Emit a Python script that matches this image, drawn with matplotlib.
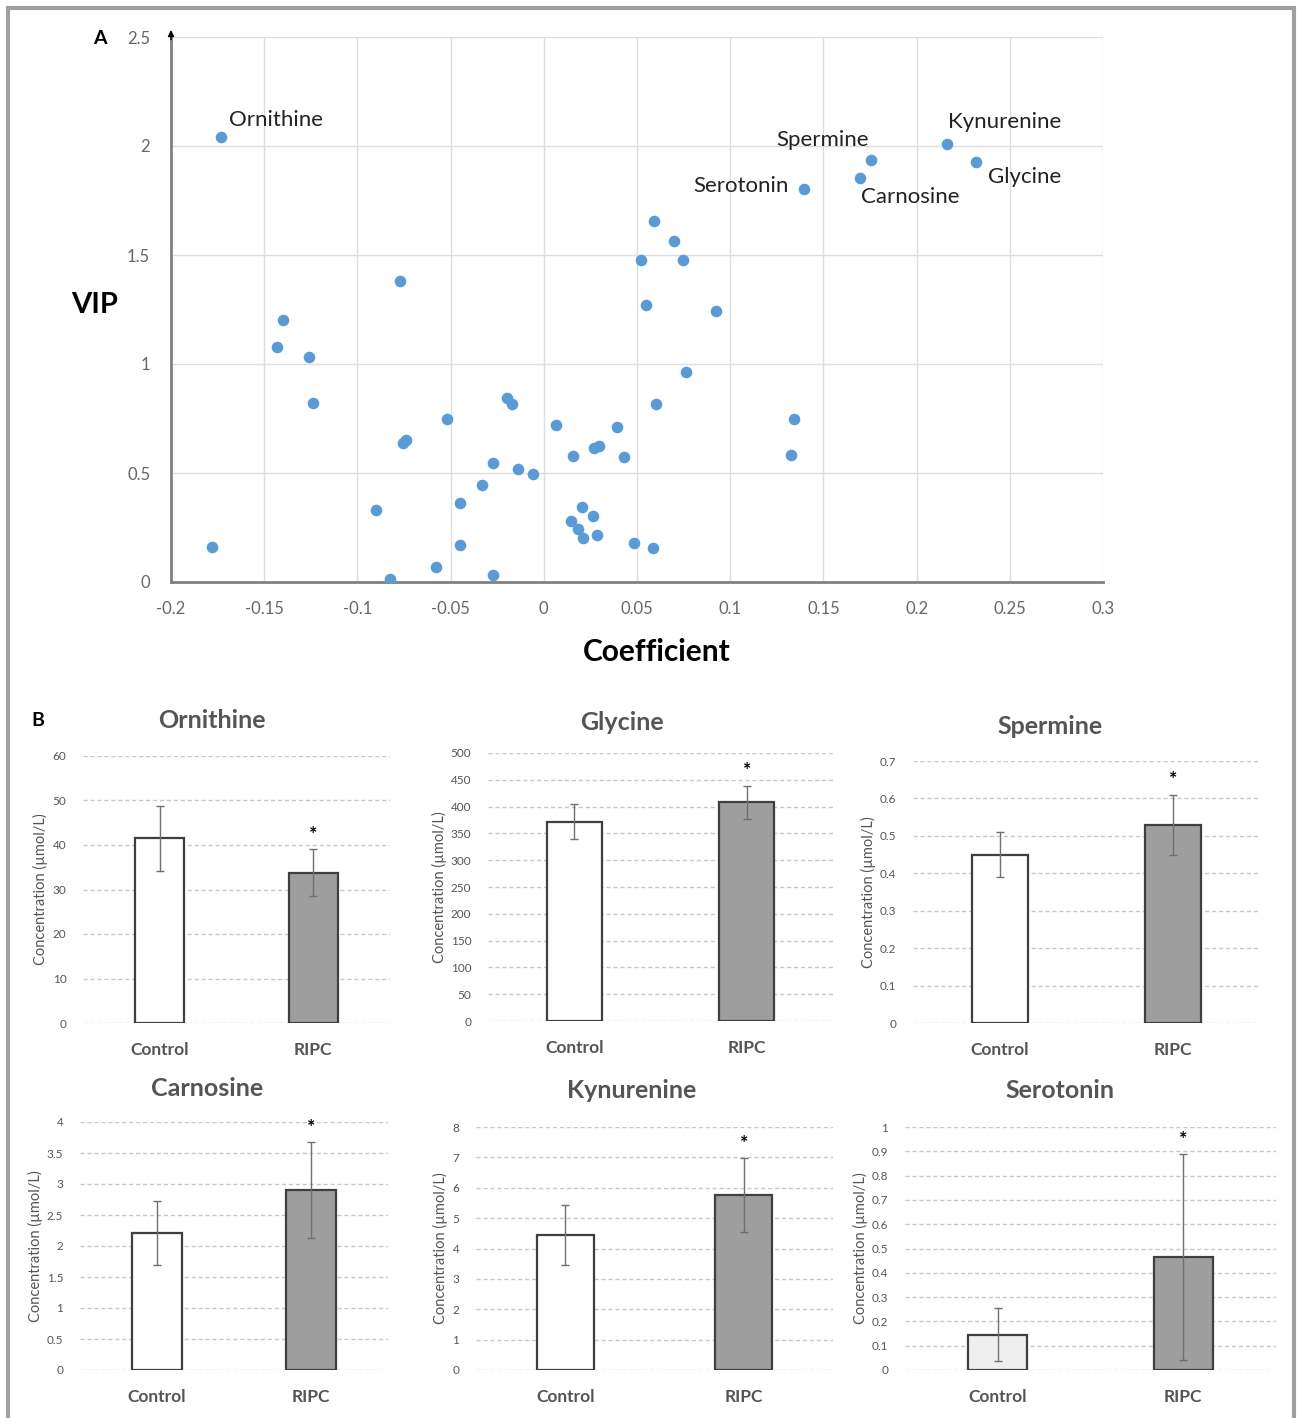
import matplotlib
matplotlib.use("Agg")
import matplotlib.pyplot as plt
from matplotlib.patches import Rectangle

plt.rcParams["font.family"] = ["Lato", "DejaVu Sans"]

W, H = 1297, 1418

# ---- panel A: VIP vs coefficient ----
coef = [-0.173, -0.178, -0.077, -0.140, -0.143, -0.126, -0.124, -0.0755, -0.0737,
        -0.052, -0.090, -0.0825, -0.058, -0.045, -0.045, -0.033, -0.027, -0.027,
        -0.020, -0.017, -0.014, -0.006, 0.0066, 0.0156, 0.0268, 0.0297, 0.0393,
        0.0428, 0.0205, 0.0266, 0.0145, 0.0186, 0.0211, 0.0287, 0.0484, 0.0588,
        0.0592, 0.0701, 0.0523, 0.0746, 0.0549, 0.0926, 0.0762, 0.0602, 0.1342,
        0.1326, 0.1395, 0.1697, 0.1754, 0.2164, 0.2316]
vip = [2.04, 0.16, 1.38, 1.20, 1.08, 1.03, 0.82, 0.636, 0.652,
       0.748, 0.33, 0.015, 0.067, 0.363, 0.17, 0.447, 0.033, 0.548,
       0.842, 0.817, 0.52, 0.497, 0.72, 0.58, 0.613, 0.625, 0.713,
       0.575, 0.346, 0.302, 0.282, 0.244, 0.203, 0.216, 0.177, 0.155,
       1.658, 1.563, 1.479, 1.479, 1.271, 1.242, 0.964, 0.818, 0.747,
       0.584, 1.804, 1.853, 1.937, 2.008, 1.928]
labelled = ["Ornithine", "Serotonin", "Carnosine", "Spermine", "Kynurenine", "Glycine"]
labelled_idx = [0, 46, 47, 48, 49, 50]

# ---- panel B: concentrations ----
groups = ["Control", "RIPC"]
metabolites = ["Ornithine", "Glycine", "Spermine", "Carnosine", "Kynurenine", "Serotonin"]
means = [[41.5, 33.8], [372, 408], [0.45, 0.53], [2.21, 2.90], [4.45, 5.75], [0.145, 0.465]]
errs = [[7.3, 5.2], [33, 31], [0.06, 0.08], [0.52, 0.77], [0.98, 1.22], [0.11, 0.425]]
ymax = [60, 500, 0.7, 4, 8, 1]
ystep = [10, 50, 0.1, 0.5, 1, 0.1]
tick_fmt = ["{:.0f}", "{:.0f}", "{:g}", "{:g}", "{:.0f}", "{:g}"]


def box(x0, x1, y0, y1):
    return [x0 / W, 1 - y1 / H, (x1 - x0) / W, (y1 - y0) / H]


fig = plt.figure(figsize=(W / 100, H / 100), dpi=100)
fig.patches.append(Rectangle((8 / W, -0.02), 1286 / W, 1 - 8 / H + 0.02,
                             transform=fig.transFigure, fill=False,
                             edgecolor="#a0a0a0", linewidth=3))

ax = fig.add_axes(box(171, 1103, 37, 582))
ax.scatter(coef, vip, s=70, color="#5b9bd5", zorder=3, linewidths=0)
ax.set_xlim(-0.2, 0.3)
ax.set_ylim(0, 2.5)
ax.set_xticks([i * 0.05 - 0.2 for i in range(11)])
ax.set_xticklabels(["-0.2", "-0.15", "-0.1", "-0.05", "0", "0.05", "0.1",
                    "0.15", "0.2", "0.25", "0.3"])
ax.set_yticks([0, 0.5, 1, 1.5, 2, 2.5])
ax.set_yticklabels(["0", "0.5", "1", "1.5", "2", "2.5"])
ax.grid(True, color="#dedede", linewidth=1)
ax.set_axisbelow(True)
for s in ["top", "right"]:
    ax.spines[s].set_visible(False)
for s in ["left", "bottom"]:
    ax.spines[s].set_color("#808080")
    ax.spines[s].set_linewidth(2)
ax.tick_params(length=0, labelsize=12, labelcolor="#666666")
ax.tick_params(axis="x", pad=14)
ax.tick_params(axis="y", pad=15)
ax.annotate("", xy=(0, 1.018), xytext=(0, 0.99), xycoords="axes fraction",
            arrowprops=dict(arrowstyle="-|>", color="black", lw=1, mutation_scale=9))
offsets = {"Ornithine": (8, 17, "left"), "Serotonin": (-15, 3, "right"),
           "Carnosine": (1, -19, "left"), "Spermine": (-2, 20, "right"),
           "Kynurenine": (1, 22, "left"), "Glycine": (12, -15, "left")}
for name, i in zip(labelled, labelled_idx):
    dx, dy, ha = offsets[name]
    ax.annotate(name, (coef[i], vip[i]), xytext=(dx, dy), textcoords="offset pixels",
                ha=ha, va="center", fontsize=16, color="#222222")
fig.text(95 / W, 1 - 305 / H, "VIP", fontsize=21, fontweight="bold", ha="center", va="center")
fig.text(657 / W, 1 - 652 / H, "Coefficient", fontsize=21.5, fontweight="bold",
         ha="center", va="center")
fig.text(100 / W, 1 - 38 / H, "A", fontsize=14, fontweight="bold", ha="center", va="center")
fig.text(38 / W, 1 - 721 / H, "B", fontsize=14, fontweight="bold", ha="center", va="center")

# bar panels
panel_boxes = [(83, 390, 756, 1023), (488, 833, 753, 1021), (913, 1260, 761, 1023),
               (80, 388, 1122, 1370), (476, 833, 1127, 1370), (905, 1276, 1127, 1370)]
title_pos = [(212, 720), (622, 723), (1050, 727), (207, 1088), (632, 1090), (1060, 1090)]

for k, name in enumerate(metabolites):
    bx = fig.add_axes(box(*panel_boxes[k]))
    ctrl_fill = "#eeeeee" if name == "Serotonin" else "white"
    bx.bar([0, 1], means[k], width=0.32, color=[ctrl_fill, "#9e9e9e"],
           edgecolor="#3f3f3f", linewidth=1.6, zorder=3)
    bx.errorbar([0, 1], means[k], yerr=errs[k], fmt="none", ecolor="#707070",
                elinewidth=1, capsize=3, capthick=1, zorder=4)
    bx.text(1, means[k][1] + errs[k][1] + ymax[k] * 0.025, "*", ha="center", va="bottom",
            fontsize=14, fontweight="bold", color="black", zorder=5)
    bx.set_xlim(-0.5, 1.5)
    bx.set_ylim(0, ymax[k])
    n = int(round(ymax[k] / ystep[k]))
    ticks = [ystep[k] * j for j in range(n + 1)]
    bx.set_yticks(ticks)
    bx.set_yticklabels([tick_fmt[k].format(round(t, 2)) for t in ticks])
    bx.set_xticks([0, 1])
    bx.set_xticklabels(groups, fontweight="bold", fontsize=12.5, color="#555555")
    bx.yaxis.grid(True, color="#c8c8c8", linewidth=1, linestyle=(0, (3, 2)))
    bx.set_axisbelow(True)
    for s in bx.spines.values():
        s.set_visible(False)
    bx.tick_params(axis="y", length=0, labelsize=8.5, labelcolor="#555555", pad=12)
    bx.tick_params(axis="x", length=0, pad=14)
    bx.set_ylabel("Concentration (\u00b5mol/L)", fontsize=10.5, color="#555555", labelpad=3)
    tx, ty = title_pos[k]
    fig.text(tx / W, 1 - ty / H, name, fontsize=18, fontweight="bold", color="#555555",
             ha="center", va="center")

fig.savefig("out.png", dpi=100)
